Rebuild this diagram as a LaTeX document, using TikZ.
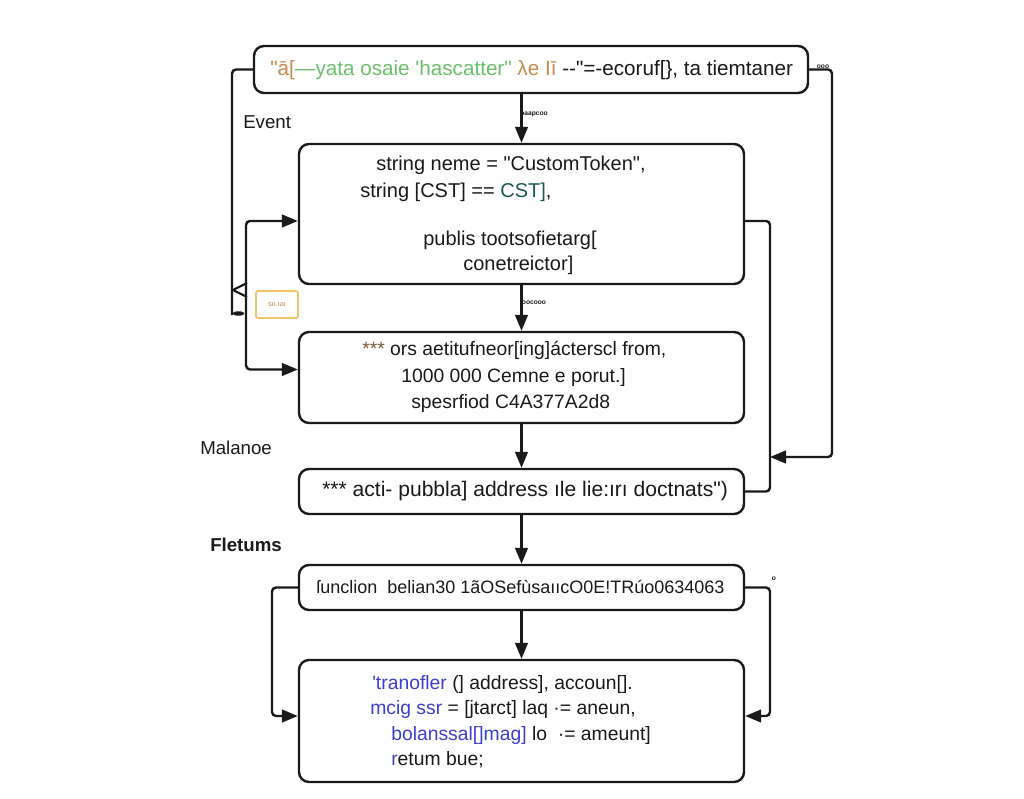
\documentclass[tikz,border=0pt]{standalone}
\usepackage{fontspec}
\setmainfont{Liberation Sans}
\newfontfamily\codefont{Liberation Sans}
\usetikzlibrary{arrows.meta}
\definecolor{ink}{HTML}{1A1A1A}
\definecolor{grn}{HTML}{6CC06A}
\definecolor{org}{HTML}{C98A4E}
\definecolor{teal}{HTML}{1E5A52}
\definecolor{blu}{HTML}{3B3FD2}
\definecolor{ylw}{HTML}{F0C46A}
\definecolor{brn}{HTML}{7A5A3A}
\tikzset{
  box/.style={draw=ink, line width=1.8pt, rounded corners=7.5pt, fill=white, inner sep=0pt, minimum width=333.75pt},
  line/.style={anchor=west, inner sep=0pt, font=\codefont\fontsize{15}{17}\selectfont, text=ink},
  lbl/.style={anchor=west, inner sep=0pt, font=\fontsize{14}{16}\selectfont, text=ink},
  tiny/.style={inner sep=0pt, font=\fontsize{5}{6}\selectfont\bfseries, text=ink},
  conn/.style={draw=ink, line width=1.8pt, rounded corners=3pt},
  arr/.style={conn, -{Triangle[length=12pt,width=9.5pt]}},
}
\begin{document}
\begin{tikzpicture}[x=0.75pt,y=-0.75pt]
\useasboundingbox[fill=white] (0,0) rectangle (1024,799);

% boxes
\node[box, minimum width=415.5pt, minimum height=35.25pt] (top) at (531,69.5) {};
\node[box, minimum height=105pt] (b2) at (521.5,214) {};
\node[box, minimum height=68.25pt] (b3) at (521.5,377.5) {};
\node[box, minimum height=33.75pt] (b4) at (521.5,491.5) {};
\node[box, minimum height=33.75pt] (b5) at (521.5,587.5) {};
\node[box, minimum height=91.5pt] (b6) at (521.5,721) {};
\node[draw=ylw, line width=1.4pt, rounded corners=1.5pt, minimum width=31.5pt, minimum height=20.25pt, inner sep=0pt,
      font=\codefont\fontsize{5.5}{6}\selectfont, text=org] (tag) at (277,304.5) {sıı.ıaı};

% box texts
\node[line, font=\codefont\fontsize{15.5}{17}\selectfont] (t0) at (270,70)
  {\textcolor{org}{"ā[}\textcolor{grn}{—yata osaie 'hascatter"} \textcolor{org}{λe Iī} --"=-ecoruf[\}, ta tiemtaner};

\node[line] (t21) at (376,165) {string neme = "CustomToken",};
\node[line] (t22) at (360,192) {string [CST] == \textcolor{teal}{CST]},};
\node[line] (t23) at (423,240) {publis tootsofietarg[};
\node[line] (t24) at (463,265) {conetreictor]};

\node[line, font=\codefont\fontsize{14.5}{16}\selectfont] (t31) at (362,350) {\textcolor{brn}{***} ors aetitufneor[ing]ácterscl from,};
\node[line, font=\codefont\fontsize{14.5}{16}\selectfont] (t32) at (401,377) {1000 000 Cemne e porut.]};
\node[line, font=\codefont\fontsize{14.5}{16}\selectfont] (t33) at (411,403) {spesrfiod C4A377A2d8};

\node[line, font=\codefont\fontsize{15.8}{17}\selectfont] (t41) at (322,491) {*** acti- pubbla] address ıle lie:ırı doctnats")};

\node[line, font=\codefont\fontsize{13.5}{15}\selectfont] (t51) at (316,587) {ſunclion\ \ belian30 1ãOSefùsaııcO0E!TRúo0634063};

\node[line, font=\codefont\fontsize{14.5}{16}\selectfont] (t61) at (372,684) {\textcolor{blu}{'tranofler} (] address], accoun[].};
\node[line, font=\codefont\fontsize{14.5}{16}\selectfont] (t62) at (370,709) {\textcolor{blu}{mcig ssr} = [jtarct] laq ·= aneun,};
\node[line, font=\codefont\fontsize{14.5}{16}\selectfont] (t63) at (391,735) {\textcolor{blu}{bolanssal[]mag]} lo \ ·= ameunt]};
\node[line, font=\codefont\fontsize{14.5}{16}\selectfont] (t64) at (391,760) {\textcolor{blu}{r}etum bue;};

% side labels
\node[lbl] (ev) at (243,122) {Event};
\node[lbl] (ma) at (200,448) {Malanoe};
\node[lbl, font=\fontsize{14}{16}\selectfont\bfseries] (re) at (210,545) {Fletums};

% small connector labels
\node[tiny] (s1) at (534,114) {oaapcoo};
\node[tiny] (s2) at (534,303) {oocooo};
\node[tiny] (s3) at (823,67) {ooo};
\node[tiny] (s4) at (774,579) {o};

% helper points
\coordinate (lc) at (232,315);
\coordinate (lp) at (246,300);
\coordinate (rr) at (770,350);
\coordinate (rc) at (832,400);
\coordinate (jn) at (770,457);
\coordinate (bl) at (272,650);
\coordinate (br) at (770,650);

% main chain
\draw[arr] (top.south -| b2.north) -- (b2.north);
\draw[arr] (b2.south) -- (b3.north);
\draw[arr] (b3.south) -- (b4.north);
\draw[arr] (b4.south) -- (b5.north);
\draw[arr] (b5.south) -- (b6.north);

% left side
\draw[conn] (top.west) -| (lc);
\draw[draw=ink, line width=1.6pt, line join=miter] (247,283) -- (233,290) -- (247,297);
\fill[ink] (238.5,313.5) ellipse (6 and 2.2);
\draw[arr] (lp) |- ([yshift=-5.25pt]b2.west);
\draw[arr] (lp) |- ([yshift=6pt]b3.west);

% right side
\draw[conn] ([yshift=-5.25pt]b2.east) -| (rr) |- (b4.east);
\draw[arr] (top.east) -| (rc) |- (jn);

% bottom loops
\draw[arr] (b5.west) -| (bl) |- ([yshift=3.75pt]b6.west);
\draw[arr] (b5.east) -| (br) |- ([yshift=3.75pt]b6.east);
\end{tikzpicture}
\end{document}
